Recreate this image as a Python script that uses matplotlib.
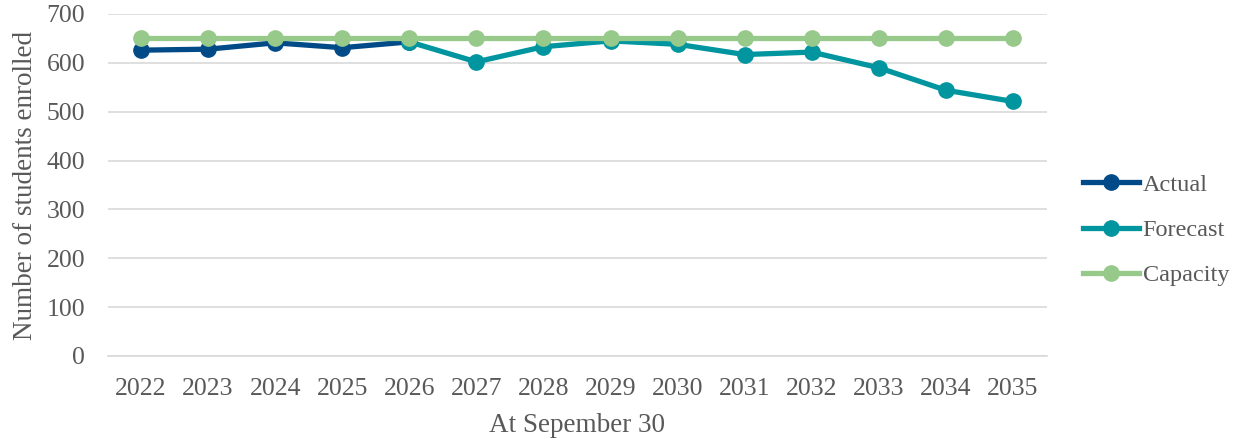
import numpy as np
import matplotlib.pyplot as plt

years = ['2022', '2023', '2024', '2025', '2026', '2027', '2028', '2029',
         '2030', '2031', '2032', '2033', '2034', '2035']
actual = [626, 628, 641, 631, 643]
forecast = [643, 602, 633, 645, 638, 617, 622, 590, 544, 521]
capacity = [650] * len(years)

plt.rcParams['font.family'] = ['Liberation Serif', 'DejaVu Serif']
grey = '#595959'

fig = plt.figure(figsize=(12.41, 4.42), dpi=100)
ax = fig.add_axes([107.5 / 1241, 1 - 356 / 442, (1046.5 - 107.5) / 1241, (356 - 14) / 442])

x = np.arange(len(years))
ax.plot(x[:len(actual)], actual, color='#004b87', lw=3.8, marker='o', ms=11, label='Actual', zorder=3)
ax.plot(x[len(actual) - 1:], forecast, color='#00959f', lw=3.8, marker='o', ms=11, label='Forecast', zorder=3)
ax.plot(x, capacity, color='#97c98a', lw=3.8, marker='o', ms=11, label='Capacity', zorder=4)

ax.set_xlim(-0.5, len(years) - 0.5)
ax.set_ylim(0, 700)
ax.set_yticks(range(0, 701, 100))
ax.set_xticks(x)
ax.set_xticklabels(years)
ax.grid(axis='y', color='#d9d9d9', lw=1.2)
ax.set_axisbelow(True)
for s in ['top', 'right', 'left']:
    ax.spines[s].set_visible(False)
ax.spines['bottom'].set_color('#d9d9d9')
ax.spines['bottom'].set_linewidth(1.2)
ax.tick_params(axis='x', length=0, labelsize=18.5, colors=grey, pad=16)
ax.tick_params(axis='y', length=0, labelsize=18.5, colors=grey, pad=16)

ax.set_xlabel('At Sepember 30', fontsize=19.5, color=grey, labelpad=9)
ax.set_ylabel('Number of students enrolled', fontsize=19.5, color=grey, labelpad=6)

ax.legend(loc='center left', bbox_to_anchor=(1083 / 1241, 1 - 230 / 442),
          bbox_transform=fig.transFigure, borderaxespad=0, borderpad=0,
          frameon=False, fontsize=17.5, labelcolor=grey,
          handlelength=2.3, handletextpad=0.15, labelspacing=0.95)

plt.savefig('out.png', dpi=100)
